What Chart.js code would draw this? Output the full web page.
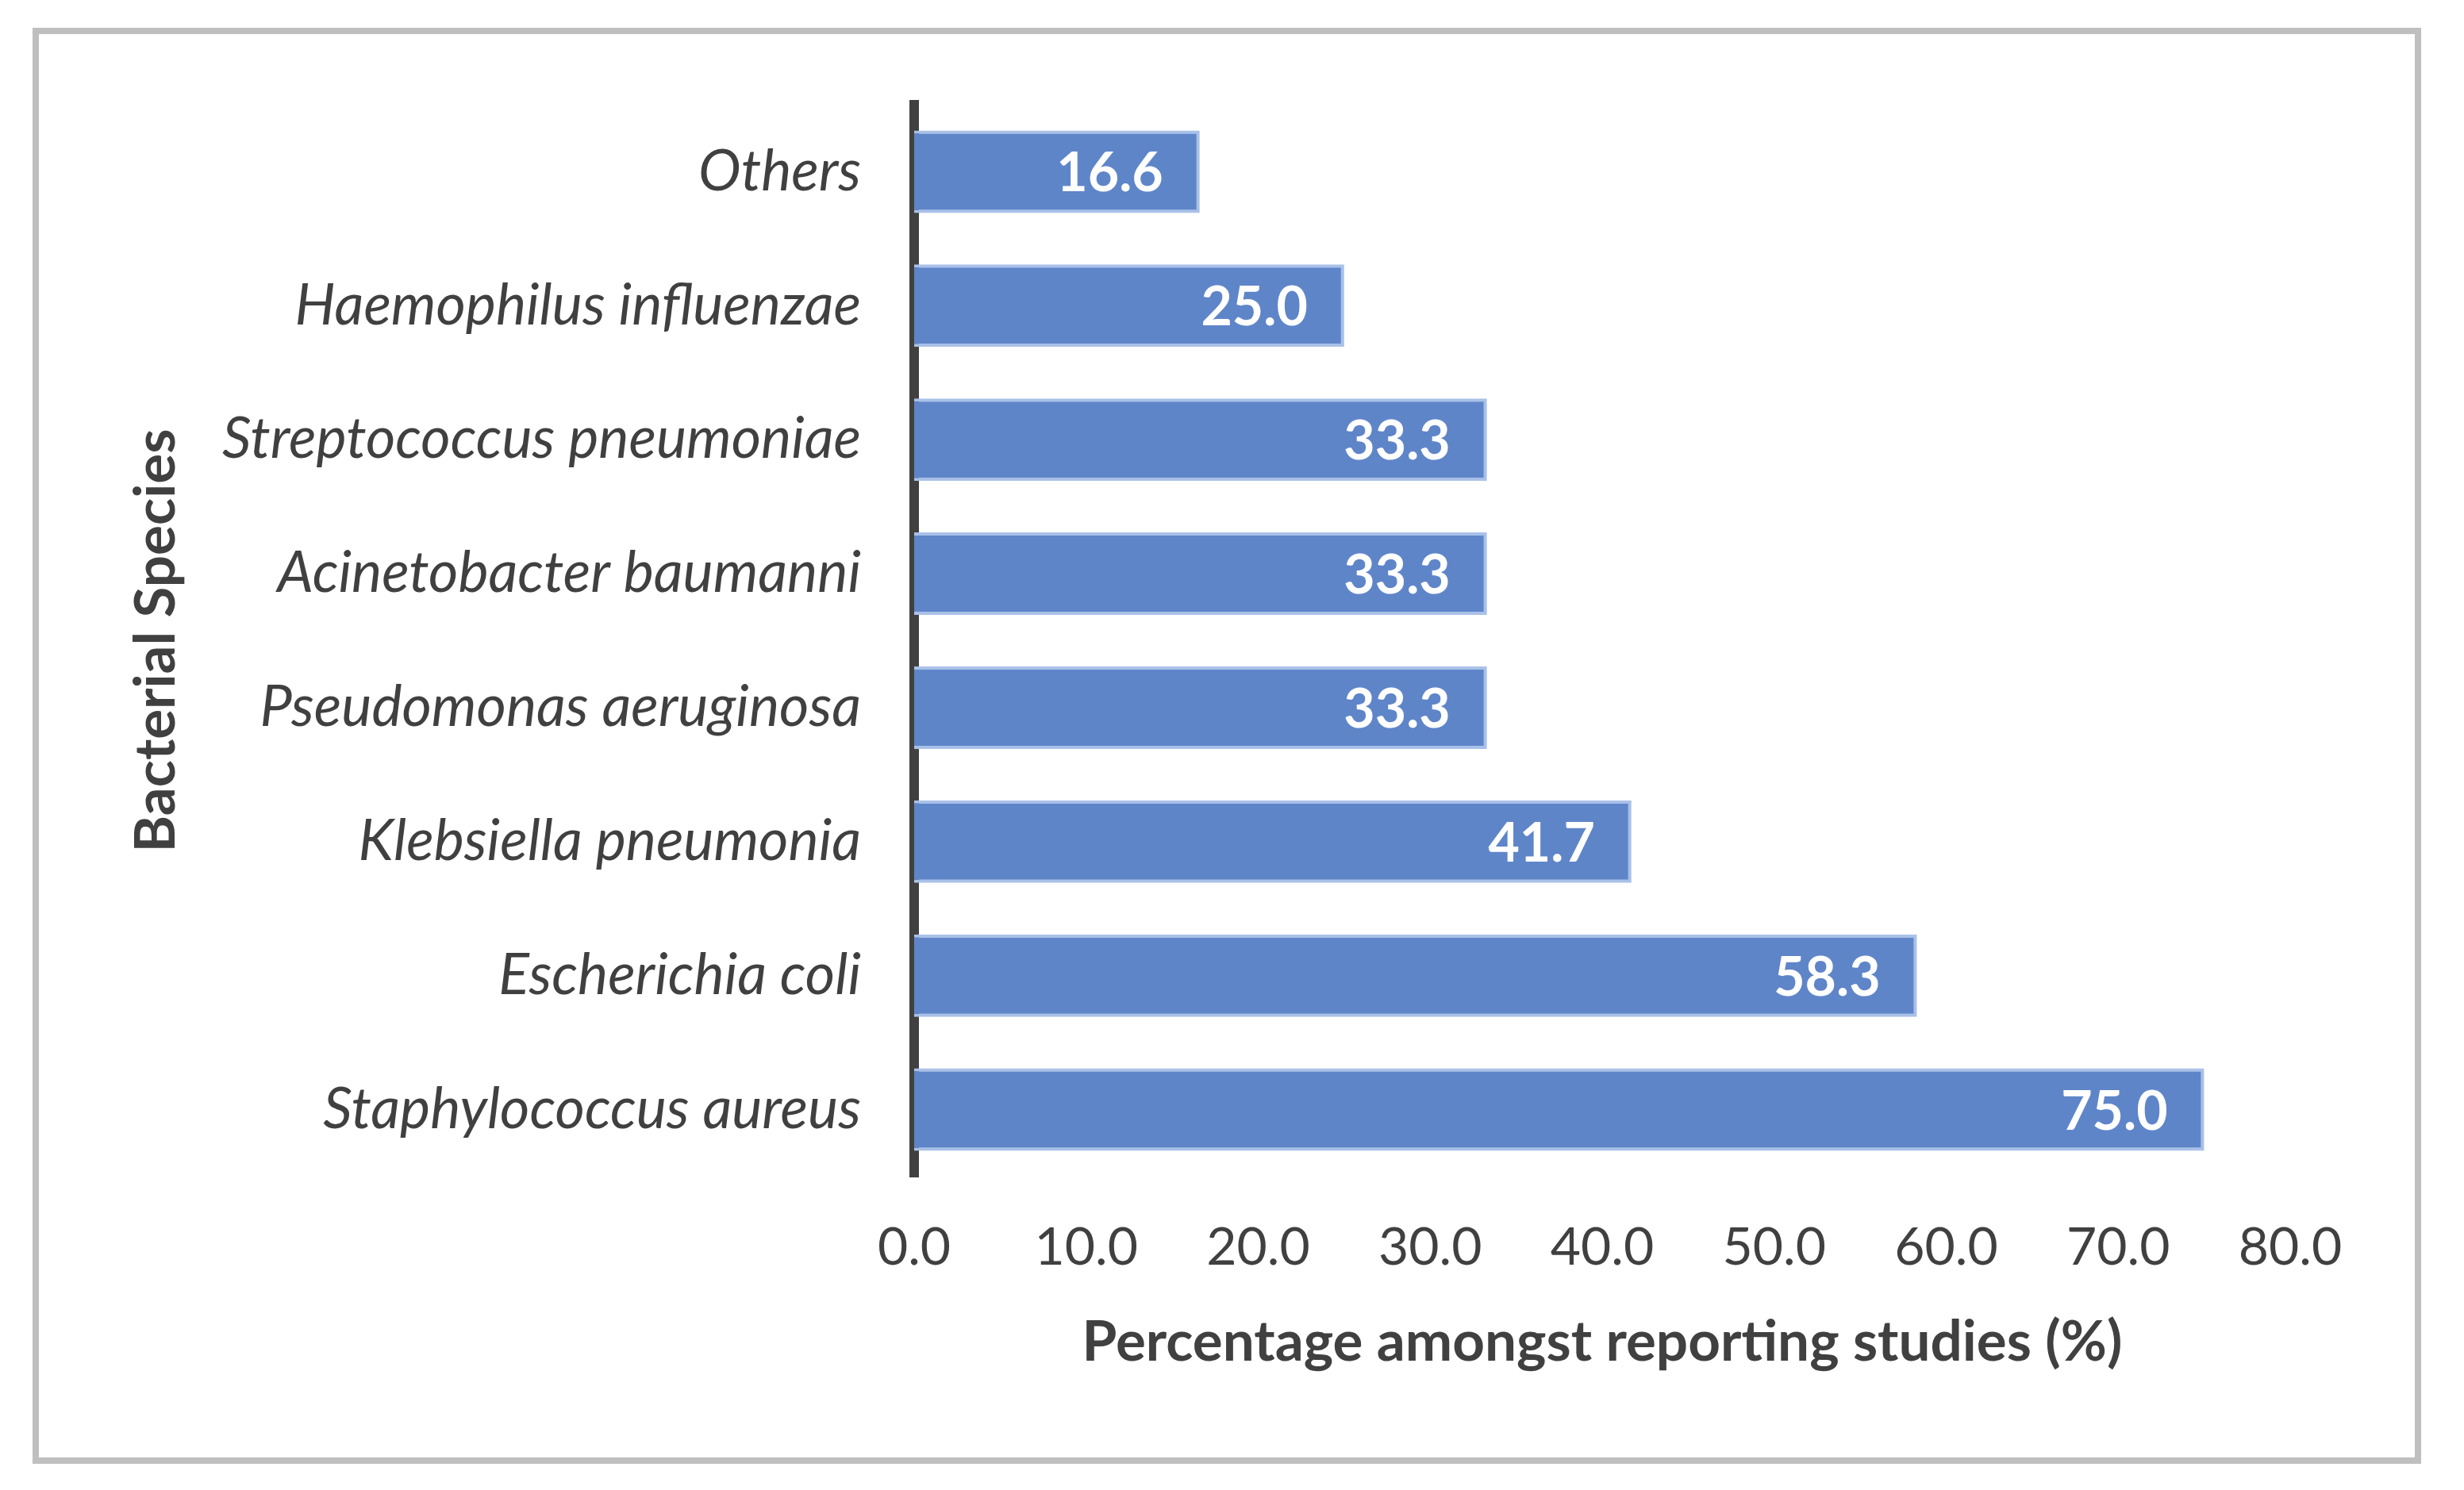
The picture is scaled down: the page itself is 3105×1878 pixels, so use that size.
<!DOCTYPE html>
<html>
<head>
<meta charset="utf-8">
<script src="https://cdn.jsdelivr.net/npm/chart.js@4"></script>
<style>
  html, body { margin: 0; padding: 0; background: #fff; }
  #wrap { position: relative; width: 3105px; height: 1878px; }
  #frame {
    position: absolute; left: 41px; top: 35px; width: 3010px; height: 1810px;
    box-sizing: border-box; border: 8px solid #bfbfbf; pointer-events: none;
  }
</style>
</head>
<body>
<div id="wrap">
  <canvas id="speciesChart" width="3105" height="1878"></canvas>
  <div id="frame"></div>
</div>
<script>
// top to bottom, as in the figure
const species = [
  "Others",
  "Haemophilus influenzae",
  "Streptococcus pneumoniae",
  "Acinetobacter baumanni",
  "Pseudomonas aeruginosa",
  "Klebsiella pneumonia",
  "Escherichia coli",
  "Staphylococcus aureus"
];
const percentages = [16.6, 25.0, 33.3, 33.3, 33.3, 41.7, 58.3, 75.0];
const xTicks = [0, 10, 20, 30, 40, 50, 60, 70, 80];

const textColor = "#404040";

// white values inside the end of each bar
const barValues = {
  id: "barValues",
  afterDatasetsDraw(chart) {
    const ctx = chart.ctx;
    const meta = chart.getDatasetMeta(0);
    ctx.save();
    ctx.fillStyle = "#ffffff";
    ctx.font = "bold 68px Lato";
    ctx.textAlign = "right";
    ctx.textBaseline = "alphabetic";
    meta.data.forEach((bar, i) => {
      ctx.fillText(percentages[i].toFixed(1), bar.x - 46, bar.y + 25);
    });
    ctx.restore();
  }
};

const ctx = document.getElementById("speciesChart").getContext("2d");
const chart = new Chart(ctx, {
  type: "bar",
  data: {
    labels: species,
    datasets: [{
      data: percentages,
      backgroundColor: "#5F85C9",
      borderColor: "#A9C1E8",
      borderWidth: 4,
      barPercentage: 0.616,
      categoryPercentage: 1
    }]
  },
  options: {
    indexAxis: "y",
    responsive: false,
    animation: false,
    devicePixelRatio: 1,
    layout: { padding: { left: 0, top: 132, right: 219, bottom: 0 } },
    plugins: {
      legend: { display: false },
      tooltip: { enabled: false }
    },
    scales: {
      x: {
        min: 0,
        max: 80,
        afterFit(scale) { scale.height = 395; },
        afterBuildTicks(scale) { scale.ticks = xTicks.map(v => ({ value: v })); },
        grid: { display: false, drawTicks: false },
        border: { display: false },
        ticks: {
          color: textColor,
          font: { family: "Lato", size: 66 },
          padding: 50,
          callback: v => Number(v).toFixed(1)
        },
        title: {
          display: true,
          text: "Percentage amongst reporting studies (%)",
          color: textColor,
          font: { family: "Lato", size: 71, weight: "bold" },
          padding: { top: 0, bottom: 143 }
        }
      },
      y: {
        z: 1,
        afterFit(scale) { scale.width = 1152; },
        grid: { display: false, drawTicks: false },
        border: { display: true, color: "#404040", width: 12 },
        ticks: {
          color: textColor,
          font: { family: "Lato", size: 72, style: "italic" },
          padding: 67
        },
        title: {
          display: true,
          text: "Bacterial Species",
          color: textColor,
          font: { family: "Lato", size: 71, weight: "bold" },
          padding: { top: 155, bottom: 0 }
        }
      }
    }
  },
  plugins: [barValues]
});
</script>
</body>
</html>
